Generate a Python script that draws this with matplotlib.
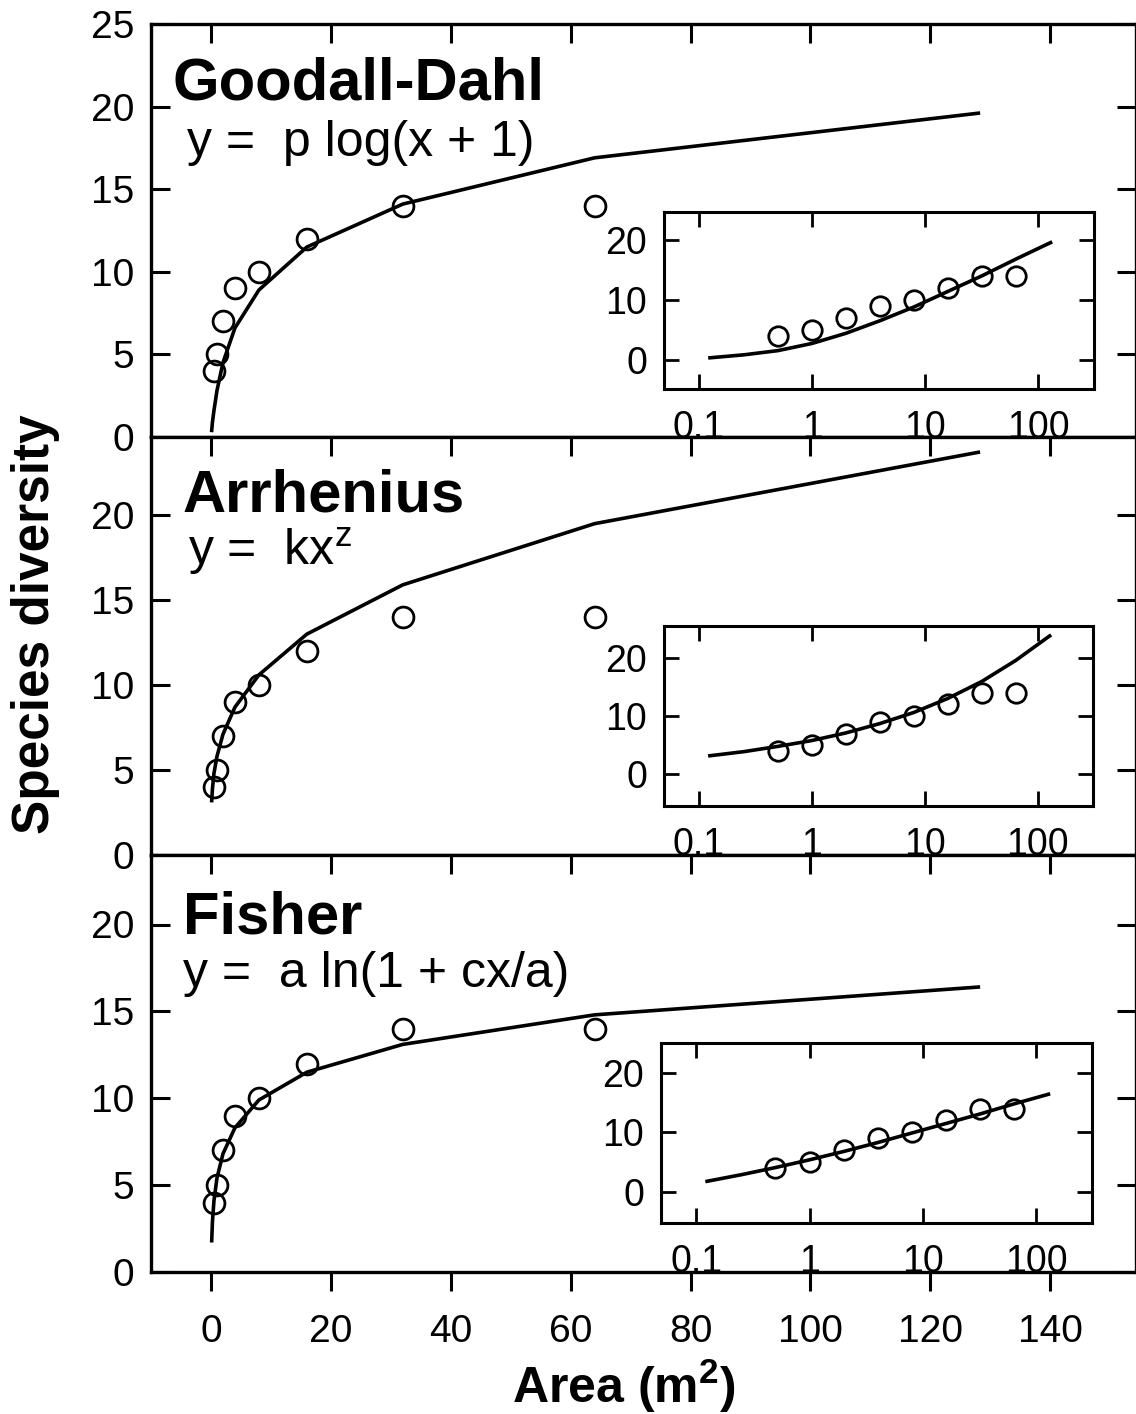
import matplotlib.pyplot as plt

plt.rcParams['font.family'] = ['Liberation Sans', 'DejaVu Sans']
plt.rcParams['mathtext.fontset'] = 'custom'
plt.rcParams['mathtext.rm'] = 'Liberation Sans'
plt.rcParams['mathtext.bf'] = 'Liberation Sans:bold'

# observed species counts vs sampled area
area = [0.5, 1, 2, 4, 8, 16, 32, 64]
species = [4, 5, 7, 9, 10, 12, 14, 14]

# fitted curves
fit_area = [0.125, 0.25, 0.5, 1, 2, 4, 8, 16, 32, 64, 128]
goodall_fit = [0.4, 0.9, 1.6, 2.8, 4.5, 6.6, 8.9, 11.5, 14.1, 16.9, 19.6]
arrhenius_fit = [3.2, 3.9, 4.8, 5.8, 7.1, 8.7, 10.6, 13.0, 15.9, 19.5, 23.7]
fisher_fit = [1.8, 2.9, 4.1, 5.4, 6.8, 8.3, 9.9, 11.5, 13.1, 14.8, 16.4]

titles = ['Goodall-Dahl', 'Arrhenius', 'Fisher']
equations = ['y =  p log(x + 1)', r'y =  kx$^\mathregular{z}$', 'y =  a ln(1 + cx/a)']
fits = [goodall_fit, arrhenius_fit, fisher_fit]

main_xticks = [0, 20, 40, 60, 80, 100, 120, 140]
main_yticks = [0, 5, 10, 15, 20, 25]
inset_xticks = [0.1, 1, 10, 100]
inset_xlabels = ['0.1', '1', '10', '100']
inset_yticks = [0, 10, 20]

W, H = 1136, 1414
fig = plt.figure(figsize=(W / 100, H / 100), dpi=100)


def box(l, t, r, b):
    # pixel box -> figure fraction
    return [l / W, 1 - b / H, (r - l) / W, (b - t) / H]


main_boxes = [box(151, 24, 1136, 437), box(151, 437, 1136, 855), box(151, 855, 1136, 1272)]
main_ytop = [25, 24.6, 24.0]
inset_boxes = [box(664, 212, 1094, 389), box(664, 626, 1093, 806), box(661, 1043, 1092, 1223)]
inset_ylims = [(-4.8, 24.7), (-5.4, 25.4), (-5.2, 25.0)]
title_pos = [(-6.4, 20.4), (-4.8, 20.2), (-4.7, 19.5)]
eq_pos = [(-4.0, 17.0), (-3.9, 17.1), (-4.6, 16.4)]

for i in range(3):
    ax = fig.add_axes(main_boxes[i])
    ax.plot(fit_area, fits[i], color='black', lw=2.6)
    ax.plot(area, species, 'o', ms=15, mfc='none', mec='black', mew=2.0)
    ax.set_xlim(-10, 154.3)
    ax.set_ylim(0, main_ytop[i])
    ax.set_xticks(main_xticks)
    ax.set_yticks([t for t in main_yticks if t <= main_ytop[i]])
    for s in ax.spines.values():
        s.set_linewidth(2.4)
    ax.tick_params(axis='x', direction='out', length=14, width=2.2,
                   top=True, labelsize=28, pad=16)
    for t in ax.xaxis.get_major_ticks():
        t.tick2line.set_marker(3)  # top ticks point inward
    ax.tick_params(axis='y', direction='in', length=14, width=2.2, right=True,
                   labelsize=28, pad=12)
    if i < 2:
        ax.tick_params(axis='x', labelbottom=False)
    ax.text(title_pos[i][0], title_pos[i][1], titles[i], fontsize=43,
            fontweight='bold', va='baseline', ha='left')
    ax.text(eq_pos[i][0], eq_pos[i][1], equations[i], fontsize=36,
            va='baseline', ha='left')

    ins = fig.add_axes(inset_boxes[i])
    ins.plot(fit_area, fits[i], color='black', lw=2.6)
    ins.plot(area, species, 'o', ms=14, mfc='none', mec='black', mew=2.0)
    ins.set_xscale('log')
    ins.set_xlim(0.049, 310)
    ins.set_ylim(*inset_ylims[i])
    ins.set_xticks(inset_xticks)
    ins.set_xticklabels(inset_xlabels)
    ins.minorticks_off()
    ins.set_yticks(inset_yticks)
    for s in ins.spines.values():
        s.set_linewidth(2.2)
    ins.tick_params(direction='in', length=11, width=2.0, top=True, right=True,
                    labelsize=27)
    ins.tick_params(axis='x', pad=15)
    ins.tick_params(axis='y', pad=12)

fig.text(36 / W, 1 - 624 / H, 'Species diversity', rotation=90, fontsize=37,
         fontweight='bold', ha='center', va='center')
fig.text(624 / W, 1 - 1403 / H, r'Area (m$^\mathbf{2}$)', fontsize=36,
         fontweight='bold', ha='center', va='baseline')

fig.savefig('out.png', dpi=100)
